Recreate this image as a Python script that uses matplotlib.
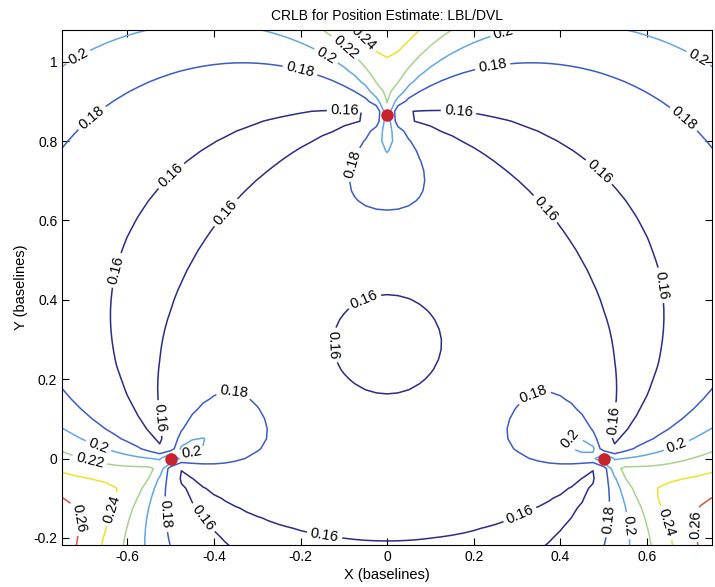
import numpy as np
import matplotlib
matplotlib.use("Agg")
import matplotlib.pyplot as plt

plt.rcParams['font.family'] = ['Liberation Sans', 'DejaVu Sans']
plt.rcParams['axes.unicode_minus'] = False

# --- Data ---
# LBL beacon positions (baselines)
beacon_x = [-0.5, 0.5, 0.0]
beacon_y = [0.0, 0.0, 0.866]
# range noise model: sigma grows with range
range_sigma = 0.1333
range_k = 0.30
contour_levels = [0.16, 0.18, 0.2, 0.22, 0.24, 0.26]
level_colors = ['#2b2c86', '#3b5cc4', '#62a6e6', '#a8d38c', '#eee22a', '#d9533a']
grid_step = 0.025

# where MATLAB put the inline labels
label_spots = [(-0.709, 1.004), (-0.681, 0.858), (-0.201, 0.979), (-0.144, 1.009),
               (-0.103, 1.029), (-0.059, 1.054), (0.272, 1.059), (0.245, 0.979),
               (0.706, 0.984), (0.686, 0.858), (-0.098, 0.878), (0.165, 0.878),
               (-0.075, 0.74), (-0.544, 0.765), (-0.379, 0.626), (-0.647, 0.48),
               (-0.514, 0.103), (0.53, 0.77), (0.336, 0.60), (0.64, 0.438),
               (0.512, 0.098), (-0.046, 0.382), (-0.091, 0.287), (-0.354, 0.153),
               (-0.448, 0.01), (-0.66, 0.05), (-0.69, -0.02), (-0.677, -0.141),
               (-0.619, -0.133), (-0.521, -0.141), (-0.441, -0.166), (-0.144, -0.19),
               (0.297, -0.116), (0.341, 0.153), (0.415, 0.055), (0.667, 0.035),
               (0.507, -0.153), (0.576, -0.166), (0.633, -0.166), (0.69, -0.166)]


def crlb(X, Y):
    # Fisher information from range-only fixes, then sqrt(trace(J^-1))
    Jxx = np.zeros(X.shape)
    Jyy = np.zeros(X.shape)
    Jxy = np.zeros(X.shape)
    for bx, by in zip(beacon_x, beacon_y):
        dx = X - bx
        dy = Y - by
        d2 = dx**2 + dy**2
        ok = d2 > 1e-10
        safe = np.where(ok, d2, 1.0)
        w = np.where(ok, 1.0 / (1.0 + range_k**2 * d2), 0.0)
        Jxx += w * dx * dx / safe
        Jyy += w * dy * dy / safe
        Jxy += w * dx * dy / safe
    det = Jxx * Jyy - Jxy**2
    return range_sigma * np.sqrt((Jxx + Jyy) / det)


x = np.round(np.arange(-0.775, 0.7751, grid_step), 4)
y = np.round(np.arange(-0.25, 1.1001, grid_step), 4)
X, Y = np.meshgrid(x, y)
Z = crlb(X, Y)

fig = plt.figure(figsize=(7.15, 5.87), dpi=100)
ax = fig.add_axes([0.087, 0.072, 0.909, 0.877])

cs = ax.contour(X, Y, Z, levels=contour_levels, colors=level_colors, linewidths=1.1)
ax.clabel(cs, manual=label_spots, inline=True, fontsize=10.5, colors='k',
          fmt=lambda v: f"{v:g}", inline_spacing=3)

ax.plot(beacon_x, beacon_y, 'o', color='#c8222a', markersize=8, zorder=5)

ax.set_xlim(-0.75, 0.75)
ax.set_ylim(-0.217, 1.08)
ax.set_xticks([-0.6, -0.4, -0.2, 0, 0.2, 0.4, 0.6])
ax.set_yticks([-0.2, 0, 0.2, 0.4, 0.6, 0.8, 1])
ax.set_xticklabels(['-0.6', '-0.4', '-0.2', '0', '0.2', '0.4', '0.6'])
ax.set_yticklabels(['-0.2', '0', '0.2', '0.4', '0.6', '0.8', '1'])
ax.tick_params(direction='in', top=True, right=True, labelsize=10, length=5)
ax.set_xlabel("X (baselines)", fontsize=10.5, labelpad=3)
ax.set_ylabel("Y (baselines)", fontsize=10.5, labelpad=4)
ax.set_title("CRLB for Position Estimate: LBL/DVL", fontsize=10, pad=7)

fig.savefig("out.png", dpi=100)
